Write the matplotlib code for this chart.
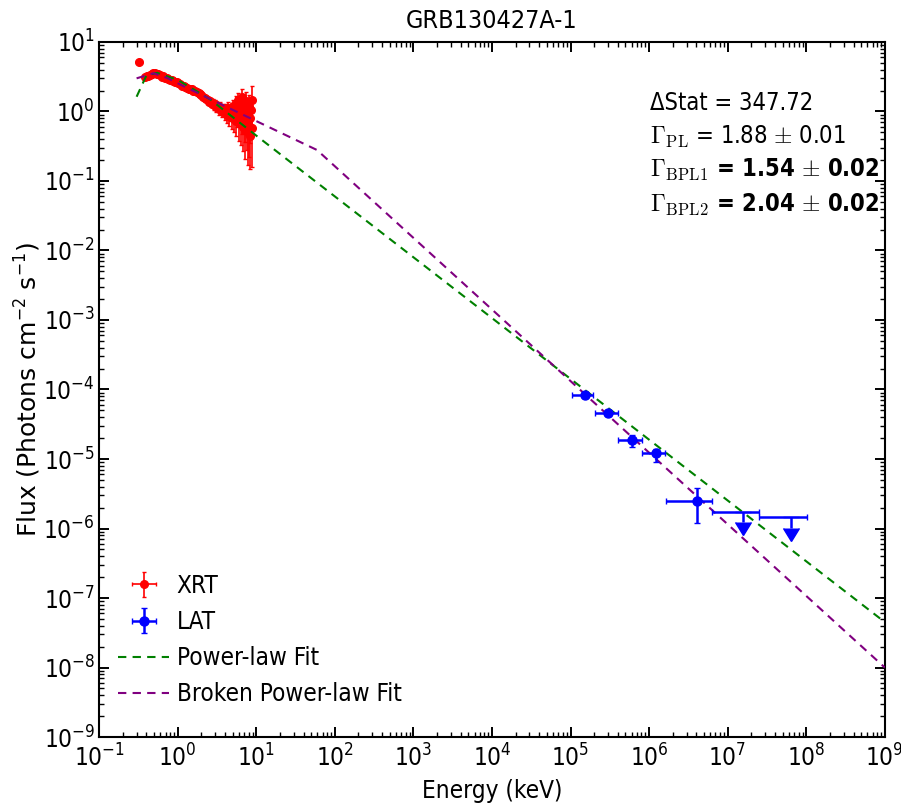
import numpy as np
import matplotlib
matplotlib.use("Agg")
import matplotlib.pyplot as plt
from matplotlib.ticker import LogLocator, NullFormatter

# ---------------- data ----------------
xrt_E = [0.326, 0.385, 0.405, 0.424, 0.45, 0.47, 0.491, 0.515, 0.542, 0.57,
         0.60, 0.628, 0.66, 0.69, 0.727, 0.76, 0.80, 0.841, 0.88, 0.93,
         0.975, 1.02, 1.07, 1.13, 1.19, 1.25, 1.31, 1.38, 1.44, 1.51,
         1.58, 1.66, 1.75, 1.85, 1.92,
         2.0, 2.1, 2.2, 2.3, 2.4, 2.5, 2.6, 2.7, 2.8, 2.9, 3.0, 3.1, 3.2,
         3.35, 3.5, 3.65, 3.8, 3.95, 4.1, 4.25, 4.4, 4.55, 4.7, 4.85, 5.0,
         5.15, 5.3, 5.45, 5.6, 5.75, 5.9, 6.05, 6.2, 6.35, 6.5, 6.65, 6.8,
         6.95, 7.1, 7.25, 7.4, 7.55, 7.7, 7.85, 8.0, 8.15, 8.3, 8.45, 8.6,
         8.75, 8.9]
xrt_F = [5.15, 3.10, 3.20, 3.27, 3.35, 3.50, 3.55, 3.62, 3.43, 3.50,
         3.30, 3.17, 3.20, 3.05, 3.01, 2.95, 2.88, 2.84, 2.75, 2.70,
         2.63, 2.55, 2.45, 2.35, 2.30, 2.22, 2.20, 2.12, 2.08, 2.11,
         2.00, 1.95, 1.93, 1.85, 1.80,
         1.75, 1.62, 1.58, 1.50, 1.46, 1.38, 1.42, 1.30, 1.34, 1.22, 1.28, 1.15, 1.21,
         1.08, 1.16, 1.02, 1.10, 0.96, 1.05, 0.90, 1.12, 0.86, 1.00, 0.82, 1.18,
         0.78, 0.95, 1.30, 0.74, 0.92, 1.45, 0.70, 1.10, 0.66, 1.60, 0.85, 0.60,
         1.25, 0.75, 0.55, 1.40, 0.68, 0.95, 0.50, 1.20, 0.62, 0.80, 0.45, 1.05,
         0.58, 1.48]
xrt_Ferr = [0.25, 0.18, 0.17, 0.17, 0.16, 0.16, 0.16, 0.15, 0.15, 0.15,
            0.14, 0.14, 0.13, 0.13, 0.13, 0.12, 0.12, 0.12, 0.11, 0.11,
            0.11, 0.10, 0.10, 0.10, 0.10, 0.10, 0.10, 0.10, 0.10, 0.10,
            0.10, 0.10, 0.10, 0.11, 0.11,
            0.12, 0.12, 0.13, 0.13, 0.14, 0.14, 0.15, 0.15, 0.16, 0.16, 0.17, 0.17, 0.18,
            0.18, 0.19, 0.19, 0.20, 0.20, 0.22, 0.22, 0.24, 0.24, 0.26, 0.26, 0.30,
            0.28, 0.30, 0.35, 0.30, 0.32, 0.40, 0.32, 0.38, 0.33, 0.50, 0.38, 0.33,
            0.45, 0.38, 0.34, 0.50, 0.40, 0.45, 0.33, 0.55, 0.40, 0.45, 0.30, 0.55,
            0.42, 0.85]

lat_E = [1.52e5, 3.02e5, 5.99e5, 1.22e6, 4.02e6]
lat_Elo = [1.03e5, 2.04e5, 4.04e5, 8.04e5, 1.62e6]
lat_Ehi = [1.95e5, 4.04e5, 8.04e5, 1.59e6, 6.35e6]
lat_F = [8.3e-5, 4.63e-5, 1.87e-5, 1.21e-5, 2.49e-6]
lat_Flo = [7.5e-5, 4.2e-5, 1.5e-5, 0.91e-5, 1.19e-6]
lat_Fhi = [9.2e-5, 5.1e-5, 2.2e-5, 1.4e-5, 3.78e-6]

ul_E = [1.57e7, 6.31e7]
ul_Elo = [6.35e6, 2.52e7]
ul_Ehi = [2.52e7, 1.03e8]
ul_F = [1.75e-6, 1.45e-6]

pl_E = [0.3, 0.4, 0.55, 1.0, 2.58, 10.0, 1e9]
pl_F = [1.63, 3.3, 3.6, 2.85, 1.5, 0.45, 4.5e-8]

bpl_E = [0.3, 0.49, 0.73, 1.07, 5.07, 59.4, 1e9]
bpl_F = [3.0, 3.55, 3.05, 2.45, 1.05, 0.279, 1.0e-8]

title = "GRB130427A-1"
stat_lines = [
    ("\u0394Stat = 347.72", "normal"),
    (r"$\Gamma_{\rm PL}$ = 1.88 $\pm$ 0.01", "normal"),
    (r"$\Gamma_{\rm BPL1}$ = 1.54 $\pm$ 0.02", "bold"),
    (r"$\Gamma_{\rm BPL2}$ = 2.04 $\pm$ 0.02", "bold"),
]

# ---------------- plotting ----------------
plt.rcParams["font.family"] = ["DejaVu Sans"]
plt.rcParams["font.stretch"] = "condensed"
plt.rcParams["mathtext.fontset"] = "custom"
plt.rcParams["mathtext.rm"] = "DejaVu Sans:stretch=condensed"
plt.rcParams["mathtext.it"] = "DejaVu Sans:italic:stretch=condensed"
plt.rcParams["mathtext.bf"] = "DejaVu Sans:bold:stretch=condensed"
plt.rcParams["mathtext.sf"] = "DejaVu Sans:stretch=condensed"

fig = plt.figure(figsize=(9.01, 8.06), dpi=100)
ax = fig.add_axes([0.110, 0.0856, 0.872, 0.8623])

xE = np.array(xrt_E)
xerr = np.gradient(xE) / 2.0
ax.errorbar(xE, xrt_F, yerr=xrt_Ferr, xerr=xerr, fmt="o", color="red",
            ms=5.5, mec="red", elinewidth=1.2, capsize=1.5, label="XRT", zorder=2)

lE = np.array(lat_E)
lF = np.array(lat_F)
lat_xerr = [lE - np.array(lat_Elo), np.array(lat_Ehi) - lE]
lat_yerr = [lF - np.array(lat_Flo), np.array(lat_Fhi) - lF]
ax.errorbar(lE, lF, xerr=lat_xerr, yerr=lat_yerr, fmt="o", color="blue",
            ms=6.5, elinewidth=1.8, capsize=2, label="LAT", zorder=4)

uE = np.array(ul_E)
uF = np.array(ul_F)
ax.errorbar(uE, uF, xerr=[uE - np.array(ul_Elo), np.array(ul_Ehi) - uE],
            fmt="none", color="blue", ecolor="blue", elinewidth=1.8, capsize=2, zorder=4)
ax.errorbar(uE, uF, yerr=uF * 0.29, uplims=True, fmt="none", color="blue",
            ecolor="blue", mfc="blue", mec="blue",
            elinewidth=1.8, capsize=6, zorder=4)

ax.plot(pl_E, pl_F, ls=(0, (4, 3)), color="green", lw=1.5,
        label="Power-law Fit", zorder=3)
ax.plot(bpl_E, bpl_F, ls=(0, (4, 3)), color="purple", lw=1.5,
        label="Broken Power-law Fit", zorder=3)

ax.set_xscale("log")
ax.set_yscale("log")
ax.set_xlim(1e-1, 1e9)
ax.set_ylim(1e-9, 1e1)

for axis in (ax.xaxis, ax.yaxis):
    axis.set_major_locator(LogLocator(base=10, numticks=30))
    axis.set_minor_locator(LogLocator(base=10, subs=np.arange(2, 10), numticks=30))
    axis.set_minor_formatter(NullFormatter())

ax.tick_params(which="both", direction="in", top=True, right=True, labelsize=17.5)
ax.tick_params(which="major", length=7, width=1.4)
ax.tick_params(which="minor", length=3.5, width=1.0)
ax.tick_params(axis="x", pad=5)
ax.tick_params(axis="y", pad=3)
for s in ax.spines.values():
    s.set_linewidth(1.5)

ax.set_xlabel("Energy (keV)", fontsize=17.5, labelpad=6)
ax.set_ylabel(r"Flux (Photons cm$^{-2}$ s$^{-1}$)", fontsize=18,
              family="DejaVu Sans", stretch="normal", math_fontfamily="dejavusans")
ax.yaxis.set_label_coords(-0.071, 0.5)
ax.set_title(title, fontsize=18, pad=10)

ys = [0.912, 0.863, 0.816, 0.766]
for (txt, w), yy in zip(stat_lines, ys):
    ax.text(0.701, yy, txt, transform=ax.transAxes, fontsize=17, weight=w,
            va="center", ha="left", math_fontfamily="cm")

h, l = ax.get_legend_handles_labels()
order = [l.index(n) for n in ["XRT", "LAT", "Power-law Fit", "Broken Power-law Fit"]]
leg = ax.legend([h[i] for i in order], [l[i] for i in order],
                loc="lower left", frameon=False, fontsize=17.5, numpoints=1,
                handlelength=2.1, handletextpad=0.3, borderaxespad=0.0,
                labelspacing=0.5, bbox_to_anchor=(0.012, 0.03))

fig.savefig("out.png", dpi=100)
